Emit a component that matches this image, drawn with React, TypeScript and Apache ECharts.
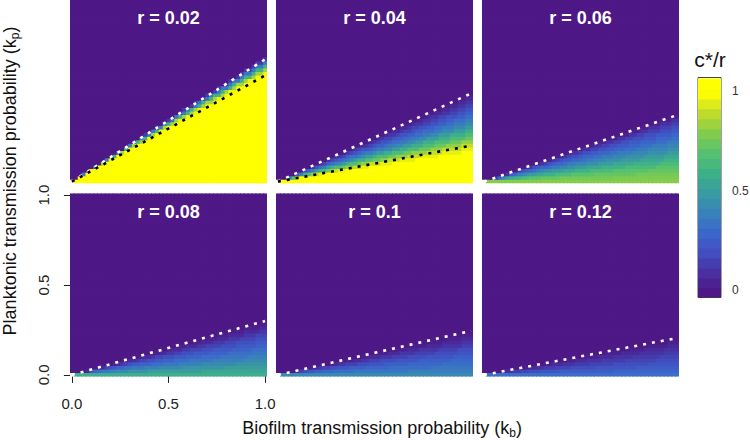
import React, { useEffect, useRef } from 'react';
import * as echarts from 'echarts';

// ---------------- data ----------------
const panelTitles = ['r = 0.02', 'r = 0.04', 'r = 0.06', 'r = 0.08', 'r = 0.1', 'r = 0.12'];

// c*/r along the right edge (kb = 1) at kp = 0, 0.02, 0.04, ...; 0 (purple) beyond the list.
// The field is constant along rays kp/kb, so every cell is read from these profiles.
const edgeR002 = [
  1, 1, 1, 1, 1, 1, 1, 1, 1, 1,
  1, 1, 1, 1, 1, 1, 1, 1, 1, 1,
  1, 1, 1, 1, 1, 1, 1, 1, 1, 1,
  0.98, 0.85, 0.6, 0.35, 0.12,
];
const edgeR004 = [
  1, 1, 1, 1, 1, 1, 1, 1, 1,
  0.96, 0.9, 0.82, 0.74, 0.66, 0.58, 0.5, 0.43, 0.37, 0.31, 0.26, 0.21, 0.16, 0.11, 0.06, 0.02,
];
const edgeR006 = [0.8, 0.78, 0.76, 0.73, 0.7, 0.65, 0.6, 0.55, 0.5, 0.45, 0.41, 0.37, 0.32, 0.28, 0.24, 0.2, 0.15, 0.1, 0.03];
const edgeR008 = [0.58, 0.55, 0.51, 0.47, 0.43, 0.39, 0.35, 0.31, 0.27, 0.24, 0.2, 0.16, 0.12, 0.07, 0.03];
const edgeR010 = [0.42, 0.38, 0.35, 0.32, 0.29, 0.26, 0.22, 0.19, 0.15, 0.11, 0.07, 0.03];
const edgeR012 = [0.31, 0.28, 0.25, 0.22, 0.19, 0.16, 0.13, 0.1, 0.07, 0.03];
const edgeProfiles = [edgeR002, edgeR004, edgeR006, edgeR008, edgeR010, edgeR012];

// dotted boundary lines: kp at kb = 1 (line from origin)
const whiteLineEnd = [0.68, 0.49, 0.37, 0.3, 0.245, 0.205];
const blackLineEnd = [0.59, 0.2, null, null, null, null];

// colour bar levels (band centres) and tick labels
const colorbarLevels = [-0.01, 0.04, 0.09, 0.14, 0.19, 0.24, 0.29, 0.34, 0.39, 0.44, 0.49, 0.54, 0.59, 0.64, 0.69, 0.74, 0.79, 0.84, 0.89, 0.94, 0.99, 1.04];
const colorbarTicks = [0, 0.5, 1];
const axisTicks = [0, 0.5, 1];
const axisTickLabels = ['0.0', '0.5', '1.0'];

const palette = ['#4E1886', '#4832A3', '#4150C1', '#3B6ACB', '#3884B8', '#399C9E', '#3FB287', '#58C26C', '#86CD4C', '#C4DD2A', '#FFFF00'];

// grid of kb / kp values (step 0.02)
const kStep = 0.02;
const kCount = 51;

// ---------------- layout ----------------
const FONT = '"Liberation Sans", Arial, Helvetica, sans-serif';
const colLefts = [70, 276, 482];
const rowTops = [0, 193.3];
const PW = 197;
const PH = 183.4;
const half = kStep / 2;

function cellValue(edge: number[], kb: number, kp: number): number {
  if (kb === 0) return kp === 0 ? -1 : 0;
  const idx = Math.round(kp / kb / kStep);
  return idx < edge.length ? edge[idx] : 0;
}

function buildPanelData(edge: number[]) {
  const ks: number[] = [];
  for (let i = 0; i < kCount; i++) ks.push(Math.round(i * kStep * 100) / 100);
  const out: number[][] = [];
  for (const kp of ks) {
    for (const kb of ks) {
      out.push([kb, kp, cellValue(edge, kb, kp)]);
    }
  }
  return out;
}

export default function App() {
  const ref = useRef<HTMLDivElement>(null);

  useEffect(() => {
    document.body.style.margin = '0';
    const chart = echarts.init(ref.current!, null, { renderer: 'svg' });

    const cellRender = (_params: any, api: any) => {
      const kb = api.value(0);
      const kp = api.value(1);
      const v = api.value(2);
      const a = api.coord([kb - half, kp + half]);
      const b = api.coord([kb + half, kp - half]);
      const isRight = kb >= 1;
      const isTop = kp >= 1;
      return {
        type: 'rect',
        shape: {
          x: a[0],
          y: isTop ? a[1] : a[1] - 1,
          width: b[0] - a[0] + (isRight ? 0 : 1),
          height: b[1] - a[1] + (isTop ? 0 : 1),
        },
        style: { fill: v < 0 ? '#ffffff' : api.visual('color') },
      };
    };

    const barRender = (_params: any, api: any) => {
      const c = api.value(1);
      const a = api.coord([0, c + 0.025]);
      const b = api.coord([1, c - 0.025]);
      return {
        type: 'rect',
        shape: { x: a[0], y: a[1], width: b[0] - a[0], height: b[1] - a[1] + 1 },
        style: { fill: api.visual('color') },
      };
    };

    const grids: any[] = [];
    const xAxes: any[] = [];
    const yAxes: any[] = [];
    const series: any[] = [];

    panelTitles.forEach((_, i) => {
      grids.push({
        left: colLefts[i % 3],
        top: rowTops[Math.floor(i / 3)],
        width: PW,
        height: PH,
        outerBoundsMode: 'none',
      });
      xAxes.push({ gridIndex: i, type: 'value', min: -half, max: 1 + half, show: false });
      yAxes.push({ gridIndex: i, type: 'value', min: -half, max: 1 + half, show: false });
      series.push({
        type: 'custom',
        xAxisIndex: i,
        yAxisIndex: i,
        data: buildPanelData(edgeProfiles[i]),
        renderItem: cellRender,
        silent: true,
        clip: true,
        progressive: 0,
        z: 2,
      });
    });

    // colour bar grid (index 6)
    grids.push({ left: 698, top: 77.5, width: 23, height: 220, show: true, borderColor: '#444', borderWidth: 1, outerBoundsMode: 'none' });
    xAxes.push({ gridIndex: 6, type: 'value', min: 0, max: 1, show: false });
    yAxes.push({
      gridIndex: 6,
      type: 'value',
      min: -0.036,
      max: 1.07,
      position: 'right',
      axisLine: { show: false },
      splitLine: { show: false },
      axisTick: { show: true, length: 4, customValues: colorbarTicks, lineStyle: { color: '#333' } },
      axisLabel: { customValues: colorbarTicks, margin: 11, fontSize: 12, color: '#333', fontFamily: FONT },
    });
    series.push({
      type: 'custom',
      xAxisIndex: 6,
      yAxisIndex: 6,
      data: colorbarLevels.map((c) => [0.5, c, Math.max(0, Math.min(1, c))]),
      renderItem: barRender,
      silent: true,
      clip: true,
      z: 2,
    });

    // axis-only grid over the bottom-left panel (index 7)
    grids.push({ left: 71.9, top: 195.1, width: 193.2, height: 179.8, outerBoundsMode: 'none' });
    xAxes.push({
      gridIndex: 7,
      type: 'value',
      min: 0,
      max: 1,
      interval: 0.5,
      position: 'bottom',
      offset: 6.8,
      splitLine: { show: false },
      axisLine: { show: true, lineStyle: { color: '#222', width: 1 } },
      axisTick: { show: true, length: 8, customValues: axisTicks, lineStyle: { color: '#222', width: 1 } },
      axisLabel: { customValues: axisTicks, margin: 14, fontSize: 15, color: '#222', fontFamily: FONT, formatter: (v: number) => v.toFixed(1) },
    });
    yAxes.push({
      gridIndex: 7,
      type: 'value',
      min: 0,
      max: 1,
      interval: 0.5,
      position: 'left',
      offset: 3.9,
      splitLine: { show: false },
      axisLine: { show: true, lineStyle: { color: '#222', width: 1 } },
      axisTick: { show: true, length: 8, customValues: axisTicks, lineStyle: { color: '#222', width: 1 } },
      axisLabel: { show: false },
    });

    const nHeat = series.length;

    // dotted boundary lines
    panelTitles.forEach((_, i) => {
      series.push({
        type: 'line',
        xAxisIndex: i,
        yAxisIndex: i,
        data: [[0, 0], [1, whiteLineEnd[i]]],
        symbol: 'none',
        silent: true,
        z: 5,
        lineStyle: { color: '#ffffff', width: 2.6, type: [3, 6], cap: 'butt' },
      });
      const bl = blackLineEnd[i];
      if (bl !== null) {
        series.push({
          type: 'line',
          xAxisIndex: i,
          yAxisIndex: i,
          data: [[0, 0], [1, bl]],
          symbol: 'none',
          silent: true,
          z: 5,
          lineStyle: { color: '#000000', width: 2.6, type: [3, 6], cap: 'butt' },
        });
      }
    });

    const seriesIdx: number[] = [];
    for (let i = 0; i < nHeat; i++) seriesIdx.push(i);

    chart.setOption({
      animation: false,
      backgroundColor: '#ffffff',
      grid: grids,
      xAxis: xAxes,
      yAxis: yAxes,
      visualMap: {
        type: 'continuous',
        show: false,
        min: 0,
        max: 1,
        dimension: 2,
        seriesIndex: seriesIdx,
        inRange: { color: palette },
      },
      series,
    });

    const graphics: any[] = panelTitles.map((t, i) => ({
      type: 'text',
      x: colLefts[i % 3] + PW / 2,
      y: rowTops[Math.floor(i / 3)] + 18.3,
      z: 20,
      style: {
        text: t,
        fill: '#ffffff',
        font: `bold 18px ${FONT}`,
        align: 'center',
        verticalAlign: 'middle',
        textAlign: 'center',
        textVerticalAlign: 'middle',
      },
    }));

    // rotated y tick labels, placed through the axis scale
    axisTicks.forEach((v, i) => {
      const p = chart.convertToPixel({ gridIndex: 7 }, [0, v]) as number[];
      graphics.push({
        type: 'text',
        x: 43.5,
        y: p[1],
        rotation: Math.PI / 2,
        z: 20,
        style: {
          text: axisTickLabels[i],
          fill: '#222',
          font: `15px ${FONT}`,
          align: 'center',
          verticalAlign: 'middle',
          textAlign: 'center',
          textVerticalAlign: 'middle',
        },
      });
    });

    const richTitle = (mainA: string, sub: string) => ({
      text: `{m|${mainA}}{s|${sub}}{m|)}`,
      rich: {
        m: { fontSize: 18, fontFamily: FONT, fill: '#111', color: '#111', lineHeight: 22 },
        s: { fontSize: 12, fontFamily: FONT, fill: '#111', color: '#111', lineHeight: 12, verticalAlign: 'bottom' },
      },
      align: 'center',
      verticalAlign: 'middle',
      textAlign: 'center',
      textVerticalAlign: 'middle',
    });

    graphics.push({
      type: 'text',
      x: 382,
      y: 427.5,
      z: 20,
      style: richTitle('Biofilm transmission probability (k', 'b'),
    });
    graphics.push({
      type: 'text',
      x: 10,
      y: 181,
      rotation: Math.PI / 2,
      z: 20,
      style: richTitle('Planktonic transmission probability (k', 'p'),
    });
    graphics.push({
      type: 'text',
      x: 710,
      y: 59,
      z: 20,
      style: {
        text: 'c*/r',
        fill: '#111',
        font: `21px ${FONT}`,
        align: 'center',
        verticalAlign: 'middle',
        textAlign: 'center',
        textVerticalAlign: 'middle',
      },
    });

    chart.setOption({ graphic: { elements: graphics } });

    return () => chart.dispose();
  }, []);

  return <div ref={ref} style={{ width: 750, height: 440 }} />;
}
